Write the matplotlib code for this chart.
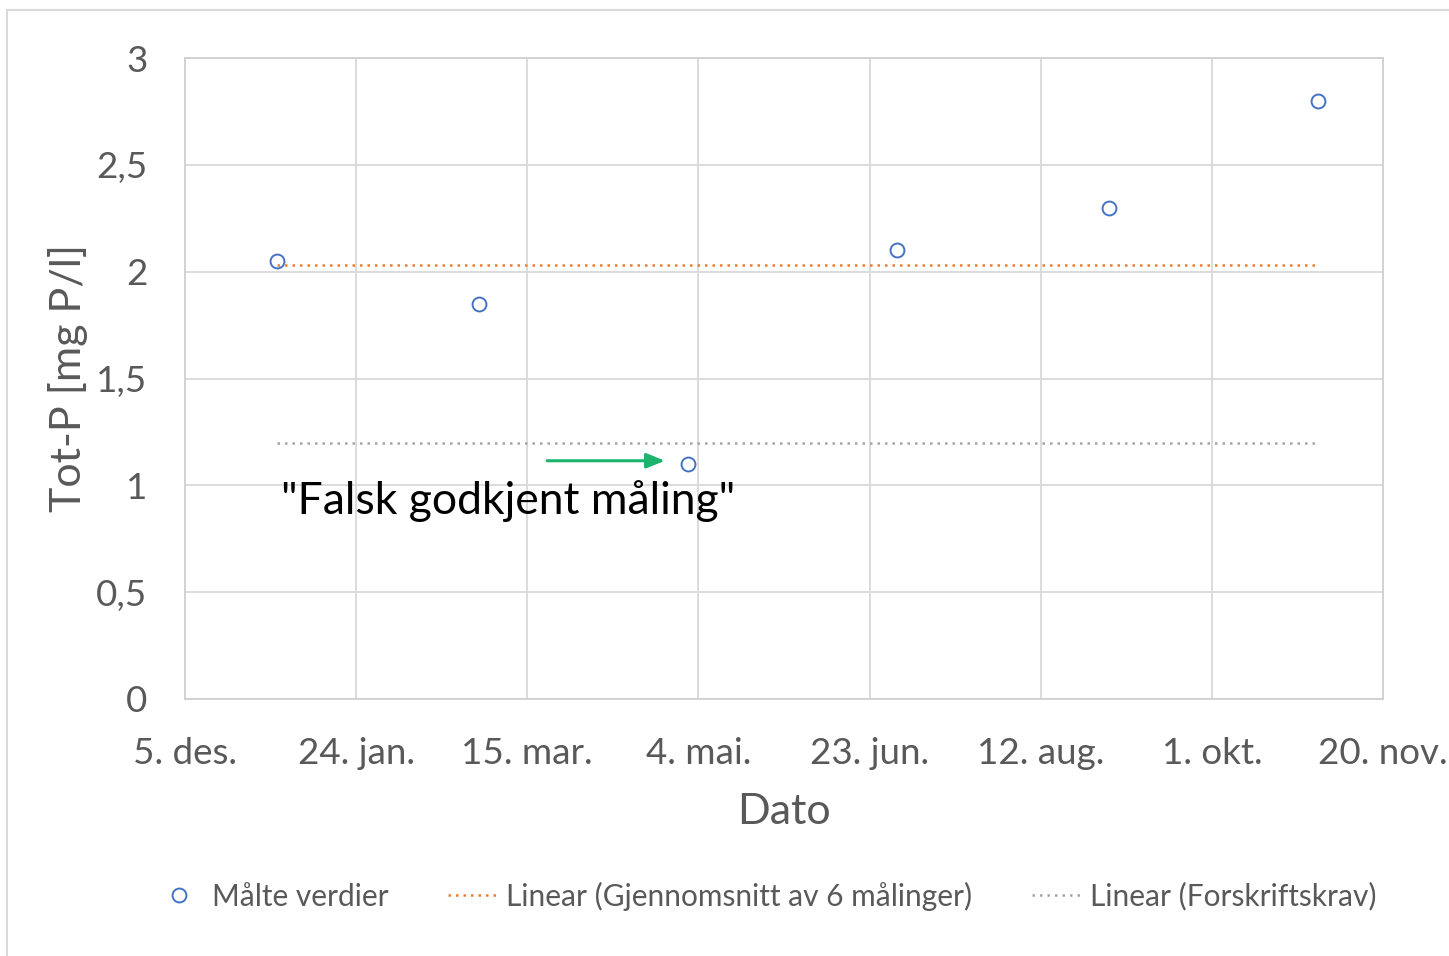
import datetime as dt

import matplotlib
matplotlib.use("Agg")
import matplotlib.pyplot as plt
from matplotlib.lines import Line2D
from matplotlib.patches import Rectangle

# Measured values (Tot-P, mg P/l)
dates = [dt.date(2019, 1, 1), dt.date(2019, 3, 1), dt.date(2019, 5, 1),
         dt.date(2019, 7, 1), dt.date(2019, 9, 1), dt.date(2019, 11, 1)]
values = [2.05, 1.85, 1.1, 2.1, 2.3, 2.8]
limit = 1.2  # Forskriftskrav

tick_dates = [dt.date(2018, 12, 5), dt.date(2019, 1, 24), dt.date(2019, 3, 15),
              dt.date(2019, 5, 4), dt.date(2019, 6, 23), dt.date(2019, 8, 12),
              dt.date(2019, 10, 1), dt.date(2019, 11, 20)]
tick_labels = ["5. des.", "24. jan.", "15. mar.", "4. mai.", "23. jun.",
               "12. aug.", "1. okt.", "20. nov."]
y_ticks = [0, 0.5, 1, 1.5, 2, 2.5, 3]
y_tick_labels = ["0", "0,5", "1", "1,5", "2", "2,5", "3"]

arrow_start = (dt.date(2019, 3, 20), 1.115)
arrow_end = (dt.date(2019, 4, 25), 1.115)
note_pos = (dt.date(2019, 1, 2), 0.925)

plt.rcParams['font.family'] = ['Lato', 'DejaVu Sans']
grey_text = '#595959'

fig = plt.figure(figsize=(14.49, 9.56), dpi=100)
ax = fig.add_axes([185 / 1449, 1 - 699 / 956, (1383 - 185) / 1449, (699 - 58) / 956])

# Outer chart border
fig.patches.append(Rectangle((7 / 1449, -0.01), 1.0, 1 - 10 / 956 + 0.01,
                             transform=fig.transFigure, fill=False,
                             edgecolor='#d9d9d9', linewidth=1.5))

mean_val = sum(values) / len(values)

ax.plot(dates, values, linestyle='none', marker='o', markersize=10,
        markerfacecolor='none', markeredgecolor='#4472C4', markeredgewidth=1.4,
        zorder=4)
ax.plot([dates[0], dates[-1]], [mean_val, mean_val], linestyle=(0, (1, 2)),
        color='#ED7D31', linewidth=1.8, zorder=3)
ax.plot([dates[0], dates[-1]], [limit, limit], linestyle=(0, (1, 2)),
        color='#A5A5A5', linewidth=1.8, zorder=3)

# Annotation
ax.annotate("", xy=arrow_end, xytext=arrow_start,
            arrowprops=dict(arrowstyle='-|>,head_length=1.1,head_width=0.45',
                            color='#1BB36D', linewidth=2.2))
ax.text(note_pos[0], note_pos[1], '"Falsk godkjent måling"', fontsize=32,
        color='black', ha='left', va='center')

ax.set_xlim(tick_dates[0], tick_dates[-1])
ax.set_ylim(0, 3)
ax.set_xticks(tick_dates)
ax.set_xticklabels(tick_labels)
ax.set_yticks(y_ticks)
ax.set_yticklabels(y_tick_labels)
ax.tick_params(length=0, labelsize=26.5, labelcolor=grey_text)
ax.tick_params(axis='x', pad=27)
ax.tick_params(axis='y', pad=27)
ax.grid(True, color='#d9d9d9', linewidth=1.3)
ax.set_axisbelow(True)
for s in ax.spines.values():
    s.set_color('#d0d0d0')
    s.set_linewidth(1.3)

ax.set_xlabel("Dato", fontsize=31, color=grey_text, labelpad=17)
ax.set_ylabel("Tot-P [mg P/l]", fontsize=31, color=grey_text, labelpad=6)

handles = [
    Line2D([], [], linestyle='none', marker='o', markersize=10,
           markerfacecolor='none', markeredgecolor='#4472C4', markeredgewidth=1.4),
    Line2D([], [], linestyle=(0, (1, 2)), color='#ED7D31', linewidth=1.8),
    Line2D([], [], linestyle=(0, (1, 2)), color='#A5A5A5', linewidth=1.8),
]
labels = ["Målte verdier", "Linear (Gjennomsnitt av 6 målinger)",
          "Linear (Forskriftskrav)"]
leg = fig.legend(handles, labels, loc='center', bbox_to_anchor=(765 / 1449, 1 - 896 / 956),
                 ncol=3, frameon=False, fontsize=21.5, handlelength=1.7,
                 handletextpad=0.25, columnspacing=2.0)
for t in leg.get_texts():
    t.set_color(grey_text)

fig.savefig("out.png", dpi=100)
